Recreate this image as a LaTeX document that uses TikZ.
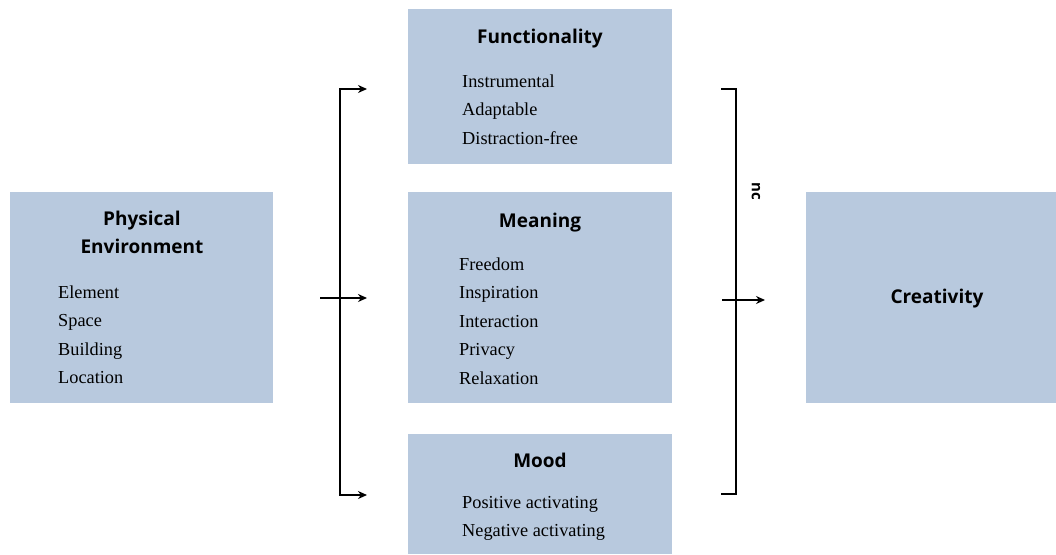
\documentclass[tikz,border=0pt]{standalone}
\usepackage{fontspec}
\setmainfont{Liberation Serif}
\newfontfamily\headfont{Open Sans}
\usetikzlibrary{arrows.meta}
\definecolor{boxblue}{RGB}{184,201,222}
\tikzset{
  panel/.style={fill=boxblue, draw=none, inner sep=0pt, anchor=north west},
  head/.style={font=\headfont\bfseries\fontsize{19}{23}\selectfont, anchor=base, inner sep=0pt},
  item/.style={font=\fontsize{18.3}{21}\selectfont, anchor=base west, inner sep=0pt},
  wire/.style={line width=2pt, line cap=rect},
  arr/.style={line width=2pt, -{Stealth[length=9pt,width=8pt]}},
}
\begin{document}
\begin{tikzpicture}[x=1pt,y=-1pt]
\useasboundingbox (0,0) rectangle (1056,554);

% boxes
\node[panel, minimum width=263pt, minimum height=211pt] (phys) at (10,192) {};
\node[panel, minimum width=264pt, minimum height=155pt] (func) at (408,9) {};
\node[panel, minimum width=264pt, minimum height=211pt] (mean) at (408,192) {};
\node[panel, minimum width=264pt, minimum height=120pt] (mood) at (408,434) {};
\node[panel, minimum width=250pt, minimum height=211pt] (crea) at (806,192) {};

% headings
\node[head] (physA) at (142,225) {Physical};
\node[head] (physB) at (142,253) {Environment};
\node[head] (funcH) at (540,43) {Functionality};
\node[head] (meanH) at (540,227) {Meaning};
\node[head] (moodH) at (540,467) {Mood};
\node[head] (creaH) at (937,303) {Creativity};

% item lists
\foreach \t [count=\i] in {Element,Space,Building,Location}
  \node[item] (physI\i) at (58,{298+28.5*(\i-1)}) {\t};
\foreach \t [count=\i] in {Instrumental,Adaptable,Distraction-free}
  \node[item] (funcI\i) at (462,{87+28.5*(\i-1)}) {\t};
\foreach \t [count=\i] in {Freedom,Inspiration,Interaction,Privacy,Relaxation}
  \node[item] (meanI\i) at (459,{270+28.5*(\i-1)}) {\t};
\foreach \t [count=\i] in {Positive activating,Negative activating}
  \node[item] (moodI\i) at (462,{508+28.5*(\i-1)}) {\t};

% left fork
\coordinate (ltop) at (340,89);
\coordinate (lbot) at (340,495);
\coordinate (lin)  at (320,298);
\coordinate (ltopE) at (367,89);
\coordinate (lmidE) at (367,298);
\coordinate (lbotE) at (367,495);
\draw[wire] (ltop) -- (lbot);
\draw[arr] (ltop) -- (ltopE);
\draw[arr] (lbot) -- (lbotE);
\draw[arr] (lin) -- (lmidE);

% right bracket
\coordinate (rtopS) at (722,89);
\coordinate (rtop)  at (736,89);
\coordinate (rbot)  at (736,494);
\coordinate (rbotS) at (722,494);
\coordinate (rin)   at (722,300);
\coordinate (rmidE) at (765,300);
\draw[wire] (rtopS) -- (rtop) -- (rbot) -- (rbotS);
\draw[arr] (rin) -- (rmidE);
\node[font=\headfont\bfseries\fontsize{15}{17}\selectfont, rotate=-90, inner sep=0pt] (nc) at (756,191) {nc};
\end{tikzpicture}
\end{document}
